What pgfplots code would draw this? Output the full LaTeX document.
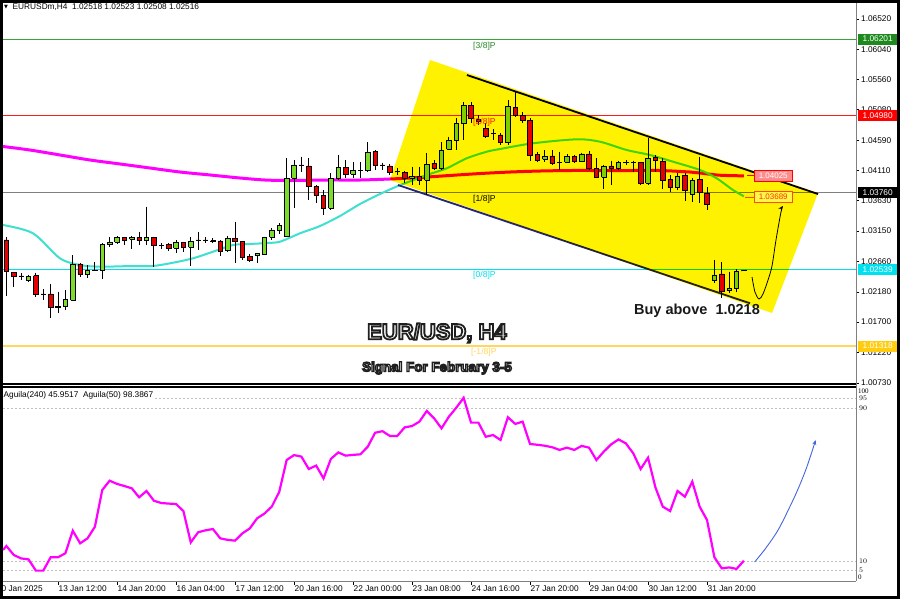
\documentclass[border=0pt]{standalone}
\usepackage{fontspec}
\setmainfont{Liberation Sans}
\newfontfamily\serifface{Liberation Serif}
\newfontfamily\dejavu{DejaVu Sans}
\usepackage{pgfplots}
\pgfplotsset{compat=1.18}
\usetikzlibrary{arrows.meta}

\definecolor{cup}{HTML}{7CDC2C}
\definecolor{cdown}{HTML}{E60000}
\definecolor{lvlgreen}{HTML}{33A833}
\definecolor{lvlred}{HTML}{FF1A1A}
\definecolor{lvlgray}{HTML}{808080}
\definecolor{lvlcyan}{HTML}{00E0F0}
\definecolor{lvlgold}{HTML}{FFD75E}
\definecolor{mamag}{HTML}{FF00FF}
\definecolor{macyan}{HTML}{40E0D0}
\definecolor{chan}{HTML}{FFF200}
\definecolor{navy}{HTML}{24247A}
\definecolor{arrowblue}{HTML}{4466DD}
\definecolor{boxgreen}{HTML}{1E8A1E}
\definecolor{boxgold}{HTML}{FFCC10}

\newcommand\tk{\fontsize{8.3}{10}\selectfont}
\newcommand\sm{\serifface\fontsize{7}{8}\selectfont}
% white text with a dark outline (fill then stroke)
\newcommand\outl[2]{\special{pdf:literal direct 2 Tr #1 w 0.12 0.12 0.12 RG}#2\special{pdf:literal direct 0 Tr}}

% candle: index, open, high, low, close
\newcommand{\cdl}[5]{%
  \pgfmathsetmacro{\xa}{#1-0.3}\pgfmathsetmacro{\xb}{#1+0.3}%
  \addplot[black, line width=0.8pt, forget plot] coordinates {(#1,#3) (#1,#4)};
  \ifdim #5pt<#2pt
    \addplot[draw=black, fill=cdown, line width=0.7pt, forget plot] coordinates {(\xa,#2) (\xb,#2) (\xb,#5) (\xa,#5) (\xa,#2)};
  \else
    \addplot[draw=black, fill=cup, line width=0.7pt, forget plot] coordinates {(\xa,#2) (\xb,#2) (\xb,#5) (\xa,#5) (\xa,#2)};
  \fi}

\pgfplotstableread{
i v
-0.46 15.7
0 17.8
1 13.1
2 11.3
3 10.8
4 4.9
5 4.9
6 11.9
7 11.9
8 14.0
9 25.8
10 19.2
11 21.8
12 27.9
13 47.1
14 52.0
15 50.3
16 49.2
17 48.0
18 43.3
19 46.6
20 41.5
21 40.3
22 40.0
23 39.8
24 36.1
25 19.7
26 25.0
27 26.0
28 26.7
29 21.8
30 21.0
31 20.6
32 24.4
33 27.0
34 32.3
35 34.8
36 38.5
37 46.2
38 62.8
39 65.4
40 64.6
41 58.1
42 59.9
43 53.2
44 63.4
45 66.8
46 65.1
47 65.5
48 65.8
49 69.8
50 77.1
51 77.9
52 75.4
53 75.4
54 79.9
55 80.6
56 82.9
57 88.5
58 84.6
59 79.4
60 85.5
61 90.2
62 95.4
63 82.4
64 82.4
65 75.0
66 75.9
67 73.3
68 85.2
69 81.7
70 82.9
71 71.2
72 70.8
73 70.3
74 69.5
75 68.1
76 69.3
77 68.1
78 70.2
79 69.3
80 62.8
81 67.2
82 71.0
83 73.6
84 71.5
85 66.3
86 58.1
87 64.0
88 48.5
89 38.4
90 36.1
91 46.6
92 43.6
93 51.5
94 38.4
95 31.4
96 11.9
97 6.1
98 6.6
99 5.8
100 10.1
}\aguila

\begin{document}
\begin{tikzpicture}[x=1pt,y=1pt]
\useasboundingbox (0,0) rectangle (900,599);
\fill[white] (0,0) rectangle (900,599);

\begin{axis}[name=main, at={(3pt,214pt)}, anchor=south west, scale only axis,
  width=853pt, height=382pt,
  xmin=-0.46, xmax=115.2, ymin=1.00698, ymax=1.06775,
  axis line style={draw=none}, xtick=\empty,
  ytick={1.0652,1.0604,1.0556,1.0508,1.0459,1.0411,1.0363,1.0315,1.0266,1.0218,1.0170,1.0122,1.0073},
  yticklabels={1.06520,1.06040,1.05560,1.05080,1.04590,1.04110,1.03630,1.03150,1.02660,1.02180,1.01700,1.01220,1.00730},
  ytick pos=right, yticklabel pos=right, tick align=outside, major tick length=3pt,
  tick style={black, line width=0.6pt},
  yticklabel style={font=\tk, inner sep=1pt, xshift=1pt},
  clip=false]

% level lines
\addplot[lvlgreen, line width=1pt] coordinates {(-0.46,1.06201) (115.2,1.06201)};
\addplot[lvlred, line width=1pt] coordinates {(-0.46,1.04980) (115.2,1.04980)};
\addplot[lvlgray, line width=1pt] coordinates {(-0.46,1.03760) (115.2,1.03760)};
\addplot[lvlcyan, line width=1.4pt] coordinates {(-0.46,1.02539) (115.2,1.02539)};
\addplot[lvlgold, line width=1.2pt] coordinates {(-0.46,1.01318) (115.2,1.01318)};

% moving averages
\addplot[mamag, line width=3pt, smooth] coordinates {(-0.46,1.04492) (3.2,1.04436) (7.27,1.04357) (11.34,1.04277) (15.4,1.04214) (19.47,1.04150) (23.54,1.04086) (27.61,1.04039) (31.67,1.03991) (35.07,1.03959) (38.45,1.03951) (43.88,1.03959) (47.95,1.03959) (52.01,1.03975) (56.08,1.03999) (60.15,1.04031) (64.22,1.04062) (68.28,1.04086) (72.35,1.04102) (76.42,1.04110) (80.49,1.04110) (84.56,1.04110) (88.62,1.04110) (92.69,1.04086) (94.05,1.04070) (96.76,1.04035) (100,1.04025)};
\addplot[macyan, line width=2pt, smooth] coordinates {(-0.46,1.03243) (3.61,1.03111) (7.27,1.02713) (9.98,1.02607) (12.69,1.02580) (17.17,1.02591) (19.88,1.02591) (22.59,1.02643) (25.3,1.02713) (28.01,1.02818) (30.73,1.02925) (33.03,1.02941) (35.34,1.02957) (37.1,1.02978) (39.81,1.03111) (42.52,1.03227) (45.23,1.03386) (47.95,1.03577) (50.66,1.03736) (53.1,1.03864) (57.03,1.04039) (59.7,1.04145) (62.41,1.04304) (65.13,1.04409) (66.93,1.04452) (71.4,1.04543) (77.33,1.04606) (80.49,1.04568) (84.11,1.04436) (87.27,1.04357) (90.39,1.04250) (94.05,1.04118) (96.31,1.03986) (98.52,1.03800) (100,1.03700)};

% channel
\addplot[black, line width=1.8pt] coordinates {(62.45,1.05629) (110.05,1.03736)};
\addplot[navy, line width=1.8pt] coordinates {(53.1,1.03879) (100.83,1.01998)};

% candles
\cdl{0}{1.03005}{1.03057}{1.02114}{1.02500}
\cdl{1}{1.02491}{1.02496}{1.02262}{1.02421}
\cdl{2}{1.02432}{1.02475}{1.02368}{1.02427}
\cdl{3}{1.02357}{1.02448}{1.02341}{1.02421}
\cdl{4}{1.02437}{1.02484}{1.02103}{1.02146}
\cdl{5}{1.02146}{1.02225}{1.02050}{1.02144}
\cdl{6}{1.02146}{1.02305}{1.01759}{1.01934}
\cdl{7}{1.01939}{1.02182}{1.01848}{1.01944}
\cdl{8}{1.01944}{1.02209}{1.01891}{1.02061}
\cdl{9}{1.02050}{1.02761}{1.02039}{1.02623}
\cdl{10}{1.02623}{1.02643}{1.02421}{1.02464}
\cdl{11}{1.02464}{1.02607}{1.02395}{1.02527}
\cdl{12}{1.02527}{1.02659}{1.02516}{1.02522}
\cdl{13}{1.02516}{1.02952}{1.02379}{1.02936}
\cdl{14}{1.02936}{1.03048}{1.02888}{1.02968}
\cdl{15}{1.02968}{1.03068}{1.02941}{1.03048}
\cdl{16}{1.03048}{1.03057}{1.02925}{1.03005}
\cdl{17}{1.03016}{1.03068}{1.02861}{1.03041}
\cdl{18}{1.03048}{1.03137}{1.02925}{1.02993}
\cdl{19}{1.02993}{1.03534}{1.02925}{1.03048}
\cdl{20}{1.03048}{1.03057}{1.02570}{1.02914}
\cdl{21}{1.02925}{1.02952}{1.02857}{1.02923}
\cdl{22}{1.02936}{1.02962}{1.02834}{1.02873}
\cdl{23}{1.02873}{1.03005}{1.02803}{1.02962}
\cdl{24}{1.02962}{1.02978}{1.02818}{1.02888}
\cdl{25}{1.02888}{1.03048}{1.02591}{1.02989}
\cdl{26}{1.03005}{1.03137}{1.02845}{1.03003}
\cdl{27}{1.03005}{1.03048}{1.02962}{1.03003}
\cdl{28}{1.02993}{1.03036}{1.02957}{1.02991}
\cdl{29}{1.02989}{1.03005}{1.02750}{1.02818}
\cdl{30}{1.02834}{1.03068}{1.02818}{1.03032}
\cdl{31}{1.03032}{1.03296}{1.02643}{1.02978}
\cdl{32}{1.02978}{1.02993}{1.02686}{1.02729}
\cdl{33}{1.02750}{1.02782}{1.02659}{1.02686}
\cdl{34}{1.02761}{1.02803}{1.02643}{1.02793}
\cdl{35}{1.02782}{1.03057}{1.02766}{1.03048}
\cdl{36}{1.03048}{1.03191}{1.03005}{1.03164}
\cdl{37}{1.03153}{1.03270}{1.03100}{1.03243}
\cdl{38}{1.03057}{1.04304}{1.03050}{1.03986}
\cdl{39}{1.03986}{1.04277}{1.03509}{1.04198}
\cdl{40}{1.04198}{1.04330}{1.04091}{1.04196}
\cdl{41}{1.04182}{1.04304}{1.03641}{1.03852}
\cdl{42}{1.03852}{1.03879}{1.03588}{1.03720}
\cdl{43}{1.03720}{1.03800}{1.03402}{1.03509}
\cdl{44}{1.03509}{1.04066}{1.03482}{1.03986}
\cdl{45}{1.03986}{1.04357}{1.03959}{1.04161}
\cdl{46}{1.04161}{1.04277}{1.03986}{1.04050}
\cdl{47}{1.04054}{1.04250}{1.03986}{1.04107}
\cdl{48}{1.04118}{1.04250}{1.03986}{1.04116}
\cdl{49}{1.04107}{1.04559}{1.04091}{1.04400}
\cdl{50}{1.04409}{1.04436}{1.04118}{1.04198}
\cdl{51}{1.04198}{1.04234}{1.04118}{1.04196}
\cdl{52}{1.04182}{1.04213}{1.04038}{1.04075}
\cdl{53}{1.04091}{1.04145}{1.04038}{1.04089}
\cdl{54}{1.04075}{1.04107}{1.03906}{1.03986}
\cdl{55}{1.03986}{1.04171}{1.03879}{1.04011}
\cdl{56}{1.04011}{1.04171}{1.03879}{1.03959}
\cdl{57}{1.03959}{1.04384}{1.03720}{1.04213}
\cdl{58}{1.04225}{1.04277}{1.04118}{1.04145}
\cdl{59}{1.04145}{1.04568}{1.04118}{1.04436}
\cdl{60}{1.04447}{1.04648}{1.04436}{1.04595}
\cdl{61}{1.04595}{1.04940}{1.04436}{1.04861}
\cdl{62}{1.04861}{1.05204}{1.04595}{1.05152}
\cdl{63}{1.05152}{1.05204}{1.04861}{1.04940}
\cdl{64}{1.04925}{1.04993}{1.04834}{1.04886}
\cdl{65}{1.04781}{1.04861}{1.04622}{1.04659}
\cdl{66}{1.04702}{1.04765}{1.04595}{1.04700}
\cdl{67}{1.04675}{1.04702}{1.04516}{1.04552}
\cdl{68}{1.04552}{1.05232}{1.04516}{1.05125}
\cdl{69}{1.05115}{1.05359}{1.04966}{1.04982}
\cdl{70}{1.04993}{1.05045}{1.04861}{1.04913}
\cdl{71}{1.04913}{1.04940}{1.04266}{1.04357}
\cdl{72}{1.04368}{1.04409}{1.04250}{1.04277}
\cdl{73}{1.04288}{1.04436}{1.04250}{1.04330}
\cdl{74}{1.04341}{1.04436}{1.04198}{1.04225}
\cdl{75}{1.04241}{1.04409}{1.04118}{1.04239}
\cdl{76}{1.04241}{1.04368}{1.04225}{1.04330}
\cdl{77}{1.04330}{1.04357}{1.04234}{1.04261}
\cdl{78}{1.04261}{1.04393}{1.04245}{1.04373}
\cdl{79}{1.04373}{1.04425}{1.04118}{1.04145}
\cdl{80}{1.04145}{1.04304}{1.03986}{1.04002}
\cdl{81}{1.04002}{1.04198}{1.03811}{1.04171}
\cdl{82}{1.04182}{1.04266}{1.03879}{1.04145}
\cdl{83}{1.04145}{1.04266}{1.04118}{1.04241}
\cdl{84}{1.04241}{1.04277}{1.04198}{1.04239}
\cdl{85}{1.04241}{1.04266}{1.04091}{1.04239}
\cdl{86}{1.04234}{1.04250}{1.03879}{1.03906}
\cdl{87}{1.03906}{1.04622}{1.03879}{1.04304}
\cdl{88}{1.04314}{1.04357}{1.04091}{1.04277}
\cdl{89}{1.04261}{1.04304}{1.03811}{1.03959}
\cdl{90}{1.03970}{1.04038}{1.03773}{1.03837}
\cdl{91}{1.03843}{1.04066}{1.03800}{1.04023}
\cdl{92}{1.04038}{1.04066}{1.03630}{1.03800}
\cdl{93}{1.03736}{1.03986}{1.03614}{1.03959}
\cdl{94}{1.03970}{1.04330}{1.03598}{1.03757}
\cdl{95}{1.03747}{1.03852}{1.03482}{1.03577}
\cdl{96}{1.02357}{1.02686}{1.02316}{1.02448}
\cdl{97}{1.02464}{1.02659}{1.02077}{1.02182}
\cdl{98}{1.02198}{1.02500}{1.02157}{1.02236}
\cdl{99}{1.02236}{1.02539}{1.02182}{1.02500}
\cdl{100}{1.02518}{1.02523}{1.02508}{1.02516}

% yellow channel area
\addplot[draw=none, fill=chan, blend mode=multiply] coordinates {(57.44,1.05868) (110.05,1.03752) (103.81,1.01843) (52.01,1.03959) (57.44,1.05868)};

% forecast arrow
\addplot[black, line width=0.8pt, smooth, -{Stealth[length=5pt,width=4pt]}] coordinates {(101.1,1.02416) (101.5,1.02177) (102.05,1.02066) (102.59,1.02146) (103.27,1.02368) (103.81,1.02591) (104.35,1.03004) (105.03,1.03450) (105.3,1.03545)};

% level labels
\node[anchor=west, inner sep=0pt, font=\fontsize{8.6}{9}\selectfont, text=lvlgreen!80!black] at (axis cs:63.27,1.06090) {[3/8]P};
\node[anchor=west, inner sep=0pt, font=\fontsize{8.6}{9}\selectfont, text=red!80!orange] at (axis cs:63.27,1.04882) {[2/8]P};
\node[anchor=west, inner sep=0pt, font=\fontsize{8.6}{9}\selectfont, text=black] at (axis cs:63.27,1.03657) {[1/8]P};
\node[anchor=west, inner sep=0pt, font=\fontsize{8.6}{9}\selectfont, text=lvlcyan] at (axis cs:63.27,1.02448) {[0/8]P};
\node[anchor=west, inner sep=0pt, font=\fontsize{8.6}{9}\selectfont, text=lvlgold] at (axis cs:63.0,1.01223) {[-1/8]P};

% MA value labels
\addplot[red, line width=0.8pt] coordinates {(100.42,1.04025) (101.37,1.04025)};
\addplot[orange!60!red, line width=0.8pt] coordinates {(100.15,1.03689) (101.37,1.03689)};
\node[anchor=west, draw=red, fill=red!45!white, text=white, font=\fontsize{8}{9}\selectfont, minimum width=38pt, minimum height=11pt, inner sep=0pt] at (axis cs:101.37,1.04025) {1.04025};
\node[anchor=west, draw=orange!60!red, fill=yellow!70!white, text=orange!40!red, font=\fontsize{8}{9}\selectfont, minimum width=38pt, minimum height=11pt, inner sep=0pt] at (axis cs:101.37,1.03689) {1.03689};

% right price boxes
\node[anchor=west, xshift=2pt, fill=boxgreen, text=white, font=\tk, minimum width=39pt, minimum height=11pt, inner sep=0pt] at (axis cs:115.2,1.06201) {1.06201};
\node[anchor=west, xshift=2pt, fill=red, text=white, font=\tk, minimum width=39pt, minimum height=11pt, inner sep=0pt] at (axis cs:115.2,1.04980) {1.04980};
\node[anchor=west, xshift=2pt, fill=black, text=white, font=\tk, minimum width=39pt, minimum height=11pt, inner sep=0pt] at (axis cs:115.2,1.03760) {1.03760};
\node[anchor=west, xshift=2pt, fill=lvlcyan, text=white, font=\tk, minimum width=39pt, minimum height=11pt, inner sep=0pt] at (axis cs:115.2,1.02539) {1.02539};
\node[anchor=west, xshift=2pt, fill=boxgold, text=white, font=\tk, minimum width=39pt, minimum height=11pt, inner sep=0pt] at (axis cs:115.2,1.01318) {1.01318};
\end{axis}

\begin{axis}[name=low, at={(3pt,18pt)}, anchor=south west, scale only axis,
  width=853pt, height=193pt,
  xmin=-0.46, xmax=115.2, ymin=-0.52, ymax=100.52,
  axis line style={draw=none},
  xtick={7,15,23,31,39,47,55,63,71,79,87,95},
  xticklabels={13 Jan 12:00,14 Jan 20:00,16 Jan 04:00,17 Jan 12:00,20 Jan 16:00,22 Jan 00:00,23 Jan 08:00,24 Jan 16:00,27 Jan 20:00,29 Jan 04:00,30 Jan 12:00,31 Jan 20:00},
  xtick pos=left, xticklabel pos=left,
  ytick={5,10,90,95}, ytick pos=right, yticklabel pos=right,
  tick align=outside, major tick length=4pt,
  tick style={black, line width=0.6pt},
  ytick style={draw=none},
  xticklabel style={font=\tk, anchor=north west, inner sep=0pt, xshift=0.5pt, yshift=-1pt},
  yticklabel style={font=\sm, inner sep=0pt, xshift=-1pt},
  clip=false]
\addplot[lightgray, line width=0.6pt, dash pattern=on 2pt off 2pt] coordinates {(-0.46,95) (115.2,95)};
\addplot[lightgray, line width=0.6pt, dash pattern=on 2pt off 2pt] coordinates {(-0.46,90) (115.2,90)};
\addplot[lightgray, line width=0.6pt, dash pattern=on 2pt off 2pt] coordinates {(-0.46,10) (115.2,10)};
\addplot[lightgray, line width=0.6pt, dash pattern=on 2pt off 2pt] coordinates {(-0.46,5) (115.2,5)};
\addplot[mamag, line width=2.2pt] table[x=i, y=v] {\aguila};
\addplot[arrowblue, line width=0.9pt, smooth, -{Stealth[length=5pt,width=4pt]}] coordinates {(101.45,9.4) (102.99,16.8) (104.76,27) (106.98,44.5) (108.47,58.5) (109.73,73.3)};
\node[anchor=north west, font=\tk, inner sep=0pt] at (axis cs:-1.3,-0.52) [yshift=-5pt] {10 Jan 2025};
\end{axis}

% end labels of the indicator scale, kept inside the panel
\node[anchor=west, font=\sm, inner sep=0pt] at (858,207.5) {100};
\node[anchor=west, font=\sm, inner sep=0pt] at (858,21.5) {0};

% panel separators and axis lines
\draw[black, line width=1.3pt] (3,215) -- (856,215);
\draw[black, line width=1.2pt] (3,212) -- (856,212);
\draw[gray, line width=0.8pt] (856,212) -- (856,597);
\draw[gray, line width=0.8pt] (856,18) -- (856,212);
\draw[gray, line width=0.8pt] (3,18) -- (856,18);

% header texts
\node[font=\dejavu\fontsize{5}{5}\selectfont, inner sep=0pt] at (6,592) {▼};
\node[anchor=west, font=\tk, inner sep=0pt] at (12.5,592) {EURUSDm,H4\ \ 1.02518 1.02523 1.02508 1.02516};
\node[anchor=west, font=\tk, inner sep=1pt, fill=white] at (2.5,204) {Aguila(240) 45.9517\ \ Aguila(50) 98.3867};

% annotation texts
\node[font=\bfseries\fontsize{14.5}{16}\selectfont, text=black!90] at (697,288) {Buy above\ \ 1.0218};
\node[text=white, font=\bfseries\fontsize{22}{24}\selectfont] at (437,266) {\outl{1.8}{EUR/USD, H4}};
\node[text=white, font=\bfseries\fontsize{13.4}{15}\selectfont] at (437,231) {\outl{1.3}{Signal For February 3-5}};

% outer frame
\draw[black, line width=3pt] (1.5,1.5) rectangle (898.5,597.5);
\end{tikzpicture}
\end{document}
